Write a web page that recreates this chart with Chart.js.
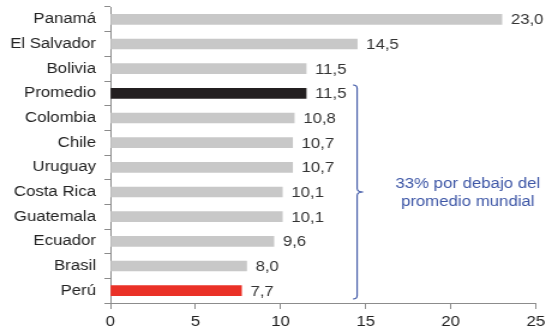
<!DOCTYPE html>
<html>
<head>
<meta charset="utf-8">
<script src="https://cdn.jsdelivr.net/npm/chart.js@4/dist/chart.umd.min.js"></script>
<style>
  html, body { margin: 0; padding: 0; background: #fff; overflow: hidden; }
  /* drawn in a narrower box, then widened to the full 545px width */
  #wrap { width: 454px; height: 331px; position: relative; transform: scaleX(1.2); transform-origin: 0 0; }
</style>
</head>
<body>
<div id="wrap"><canvas id="c"></canvas></div>
<script>
const countries = ["Panamá", "El Salvador", "Bolivia", "Promedio", "Colombia", "Chile", "Uruguay", "Costa Rica", "Guatemala", "Ecuador", "Brasil", "Perú"];
const values = [23.0, 14.5, 11.5, 11.5, 10.8, 10.7, 10.7, 10.1, 10.1, 9.6, 8.0, 7.7];
const xTicks = [0, 5, 10, 15, 20, 25];
const braceText = ["33% por debajo del", "promedio mundial"];
const braceFrom = "Promedio";
const braceTo = "Perú";

const GRAY = "#c8c8c8", BLACK = "#231f20", RED = "#ea3127", BLUE = "#3d56a6";
const barColors = countries.map(c => c === "Promedio" ? BLACK : (c === "Perú" ? RED : GRAY));
const FONT = "'Liberation Sans', Arial, sans-serif";

const fmt = v => v.toFixed(1).replace(".", ",");

const valueLabels = {
  id: "valueLabels",
  afterDatasetsDraw(chart) {
    const ctx = chart.ctx;
    const meta = chart.getDatasetMeta(0);
    ctx.save();
    ctx.font = "14px " + FONT;
    ctx.fillStyle = "#333";
    ctx.textAlign = "left";
    ctx.textBaseline = "middle";
    meta.data.forEach((bar, i) => {
      ctx.fillText(fmt(values[i]), bar.x + 7.5, bar.y + 1);
    });
    ctx.restore();
  }
};

const brace = {
  id: "brace",
  afterDraw(chart) {
    const y = chart.scales.y, x = chart.scales.x;
    const i0 = countries.indexOf(braceFrom), i1 = countries.indexOf(braceTo);
    const half = (y.getPixelForValue(1) - y.getPixelForValue(0)) / 2;
    const top = y.getPixelForValue(i0) - half + 4;
    const bot = y.getPixelForValue(i1) + half - 4;
    const mid = (top + bot) / 2;
    const bx = x.getPixelForValue(14.5);
    const r = 3.5, tip = 5;
    const ctx = chart.ctx;
    ctx.save();
    ctx.strokeStyle = BLUE;
    ctx.lineWidth = 1.1;
    ctx.beginPath();
    ctx.moveTo(bx - r, top);
    ctx.quadraticCurveTo(bx, top, bx, top + r);
    ctx.lineTo(bx, mid - r);
    ctx.quadraticCurveTo(bx, mid, bx + tip, mid);
    ctx.moveTo(bx + tip, mid);
    ctx.quadraticCurveTo(bx, mid, bx, mid + r);
    ctx.lineTo(bx, bot - r);
    ctx.quadraticCurveTo(bx, bot, bx - r, bot);
    ctx.stroke();
    ctx.fillStyle = BLUE;
    ctx.font = "14px " + FONT;
    ctx.textAlign = "center";
    ctx.textBaseline = "middle";
    const tx = x.getPixelForValue(21.0);
    ctx.fillText(braceText[0], tx, mid - 8);
    ctx.fillText(braceText[1], tx, mid + 10);
    ctx.restore();
  }
};

new Chart(document.getElementById("c"), {
  type: "bar",
  data: {
    labels: countries,
    datasets: [{
      data: values,
      backgroundColor: barColors,
      barThickness: 10,
      borderWidth: 0
    }]
  },
  options: {
    indexAxis: "y",
    responsive: true,
    maintainAspectRatio: false,
    animation: false,
    layout: { padding: { top: 7, right: 7.5, left: 0, bottom: 0 } },
    plugins: { legend: { display: false }, tooltip: { enabled: false } },
    scales: {
      x: {
        min: 0, max: 25,
        afterBuildTicks: s => { s.ticks = xTicks.map(v => ({ value: v })); },
        afterFit: s => { s.height = 28; s.paddingLeft = 0; s.paddingRight = 0; },
        border: { display: true, color: "#8c8c8c", width: 1 },
        grid: { display: true, drawOnChartArea: false, drawTicks: true, tickLength: 6, color: "#8c8c8c" },
        ticks: { color: "#222", font: { family: FONT, size: 14 }, padding: 5 }
      },
      y: {
        afterFit: s => { s.width = 92; s.paddingTop = 0; s.paddingBottom = 0; },
        border: { display: true, color: "#8c8c8c", width: 1 },
        grid: { display: true, offset: true, drawOnChartArea: false, drawTicks: true, tickLength: 5, color: "#8c8c8c" },
        ticks: { color: "#222", font: { family: FONT, size: 14 }, padding: 7 }
      }
    }
  },
  plugins: [valueLabels, brace]
});
</script>
</body>
</html>
